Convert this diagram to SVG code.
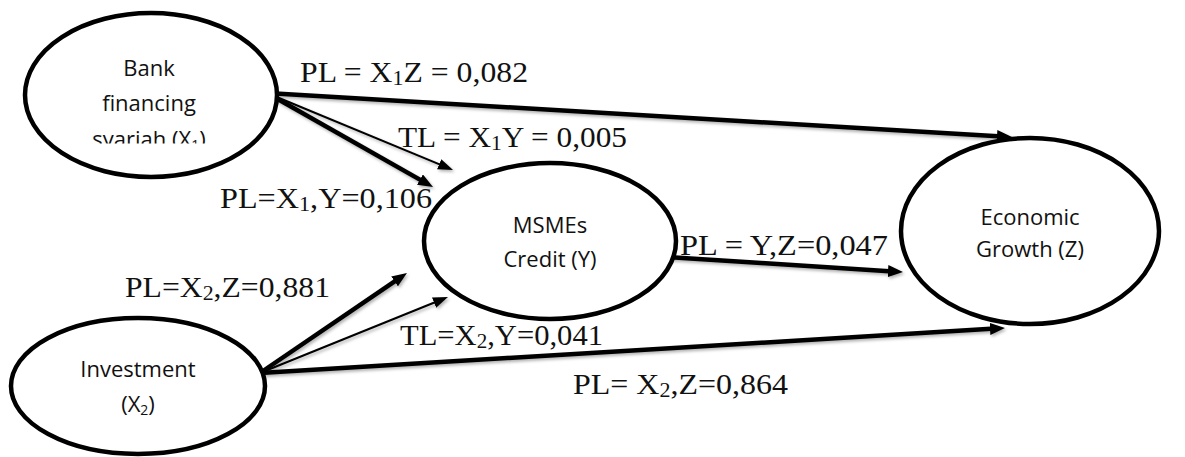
<svg xmlns="http://www.w3.org/2000/svg" width="1185" height="457" viewBox="0 0 1185 457">
  <style>
    .node { fill: #fff; stroke: #000; stroke-width: 4.5; }
    .ntext { font-family: "Open Sans", "Noto Sans", sans-serif; font-size: 22px; fill: #111; text-anchor: middle; }
    .ntext .sub { font-size: 14px; }
    .edge { fill: none; stroke: #000; }
    .thick { stroke-width: 4.5; marker-end: url(#head); }
    .thin { stroke-width: 2; marker-end: url(#headThin); }
    .lbl { font-family: "Liberation Serif", "Times New Roman", serif; font-size: 29px; fill: #111; }
    .lbl .sub { font-size: 20px; }
  </style>
  <defs>
    <marker id="head" markerUnits="userSpaceOnUse" markerWidth="16" markerHeight="13" refX="5" refY="6" orient="auto">
      <path d="M0,0 L15,6 L0,12 Z" fill="#000"/>
    </marker>
    <marker id="headThin" markerUnits="userSpaceOnUse" markerWidth="16" markerHeight="13" refX="5" refY="5.5" orient="auto">
      <path d="M0,0 L15,5.5 L0,11 Z" fill="#000"/>
    </marker>
    <filter id="shadow" x="-5%" y="-20%" width="110%" height="140%">
      <feDropShadow dx="1.5" dy="2" stdDeviation="1.5" flood-color="#000" flood-opacity="0.3"/>
    </filter>
    <clipPath id="bankClip">
      <rect x="0" y="0" width="300" height="143.5"/>
    </clipPath>
  </defs>

  <rect width="1185" height="457" fill="#fff"/>

  <!-- connectors -->
  <g id="connectors" filter="url(#shadow)">
    <path class="edge thick" d="M267,93 L1002,136.4"/>
    <path class="edge thick" d="M267,93 L424.3,182.1"/>
    <path class="edge thin" d="M267,93 L443.8,166.2"/>
    <path class="edge thick" d="M260,373 L398.7,278.6"/>
    <path class="edge thin" d="M260,373 L438.7,300.7"/>
    <path class="edge thick" d="M260,373 L995,328.6"/>
    <path class="edge thick" d="M667,257 L893,271.4"/>
  </g>

  <!-- nodes -->
  <g id="bank">
    <ellipse class="node" cx="151" cy="95" rx="126" ry="82"/>
    <g clip-path="url(#bankClip)">
      <text class="ntext" x="149" y="76">Bank</text>
      <text class="ntext" x="149" y="111">financing</text>
      <text class="ntext" x="149" y="147">syariah (X<tspan class="sub" dy="3">1</tspan><tspan dy="-3">)</tspan></text>
    </g>
  </g>
  <g id="msmes">
    <ellipse class="node" cx="550" cy="241" rx="126" ry="78"/>
    <text class="ntext" x="550" y="233">MSMEs</text>
    <text class="ntext" x="550" y="267">Credit (Y)</text>
  </g>
  <g id="growth">
    <ellipse class="node" cx="1030" cy="231" rx="129" ry="93"/>
    <text class="ntext" x="1030" y="225">Economic</text>
    <text class="ntext" x="1030" y="257">Growth (Z)</text>
  </g>
  <g id="investment">
    <ellipse class="node" cx="138" cy="386" rx="127" ry="68"/>
    <text class="ntext" x="138" y="377">Investment</text>
    <text class="ntext" x="138" y="412">(X<tspan class="sub" dy="3">2</tspan><tspan dy="-3">)</tspan></text>
  </g>

  <!-- path coefficients -->
  <g id="labels">
    <text class="lbl" x="300" y="82" textLength="228" lengthAdjust="spacingAndGlyphs">PL = X<tspan class="sub" dy="3">1</tspan><tspan dy="-3">Z = 0,082</tspan></text>
    <text class="lbl" x="398" y="147" textLength="229" lengthAdjust="spacingAndGlyphs">TL = X<tspan class="sub" dy="3">1</tspan><tspan dy="-3">Y = 0,005</tspan></text>
    <text class="lbl" x="220" y="208" textLength="212" lengthAdjust="spacingAndGlyphs">PL=X<tspan class="sub" dy="3">1</tspan><tspan dy="-3">,Y=0,106</tspan></text>
    <text class="lbl" x="125" y="297" textLength="205" lengthAdjust="spacingAndGlyphs">PL=X<tspan class="sub" dy="3">2</tspan><tspan dy="-3">,Z=0,881</tspan></text>
    <text class="lbl" x="400" y="345" textLength="203" lengthAdjust="spacingAndGlyphs">TL=X<tspan class="sub" dy="3">2</tspan><tspan dy="-3">,Y=0,041</tspan></text>
    <text class="lbl" x="573" y="394" textLength="215" lengthAdjust="spacingAndGlyphs">PL= X<tspan class="sub" dy="3">2</tspan><tspan dy="-3">,Z=0,864</tspan></text>
    <text class="lbl" x="680" y="255" textLength="208" lengthAdjust="spacingAndGlyphs">PL = Y,Z=0,047</text>
  </g>
</svg>
